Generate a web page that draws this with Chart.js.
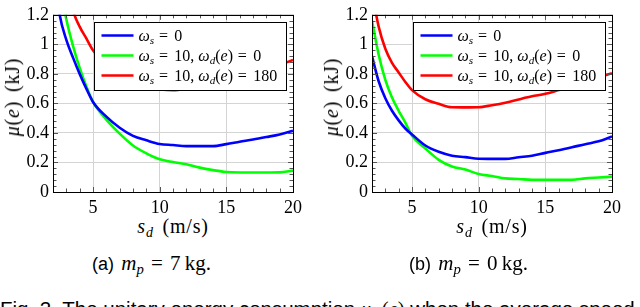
<!DOCTYPE html>
<html>
<head>
<meta charset="utf-8">
<script src="https://cdn.jsdelivr.net/npm/chart.js@4.4.0/dist/chart.umd.min.js"></script>
<style>
  html, body { margin: 0; padding: 0; background: #fff; }
  body { width: 640px; height: 307px; position: relative; overflow: hidden; font-family: "Liberation Serif", "Times New Roman", serif; }
  canvas { position: absolute; top: 0; }
  .t { position: absolute; white-space: nowrap; color: #000; line-height: 1; }
  .t sub { font-size: 70%; vertical-align: -0.25em; line-height: 0; }
  .sans { font-family: "Liberation Sans", Arial, sans-serif; }
  .ytitle { font-size: 20px; letter-spacing: 0.8px; word-spacing: 3px; transform: translate(-50%, -50%) rotate(-90deg); }
  .xtitle { font-size: 20px; letter-spacing: 0.8px; word-spacing: 3px; transform: translate(-50%, -50%); }
  .cap { font-size: 21px; word-spacing: 2px; }
  .fig { font-size: 20.5px; font-family: "Liberation Sans", Arial, sans-serif; left: 0; top: 299px; }
  .m { font-family: "Liberation Serif", "Times New Roman", serif; }
</style>
</head>
<body>
<canvas id="chartA" width="320" height="215" style="left:0"></canvas>
<canvas id="chartB" width="320" height="215" style="left:319px"></canvas>

<div class="t ytitle" style="left:12px; top:97px"><i>μ</i>(<i>e</i>) (kJ)</div>
<div class="t ytitle" style="left:331px; top:97px"><i>μ</i>(<i>e</i>) (kJ)</div>
<div class="t xtitle" style="left:173px; top:226px"><i>s</i><sub><i>d</i></sub> (m/s)</div>
<div class="t xtitle" style="left:492px; top:226px"><i>s</i><sub><i>d</i></sub> (m/s)</div>
<div class="t cap" style="left:92px; top:253px"><span class="sans" style="font-size:18px">(a)</span> <i>m</i><sub><i>p</i></sub> = 7&#8201;kg.</div>
<div class="t cap" style="left:409px; top:253px"><span class="sans" style="font-size:18px">(b)</span> <i>m</i><sub><i>p</i></sub> = 0&#8201;kg.</div>
<div class="t fig">Fig. 2. The unitary energy consumption <i class="m">μ</i><sub class="m"><i>s<sub>d</sub></i></sub><span class="m">(<i>e</i>)</span> when the average speed</div>

<script>
// speed s_d (m/s)
const speeds = [2, 2.5, 3, 3.5, 4, 4.5, 5, 6, 7, 8, 9, 10, 11, 12, 13, 14, 15, 16, 17, 18, 19, 20];

// (a) m_p = 7 kg, mu(e) in kJ
const mp7_ws0      = [1.55, 1.2, 1.03, 0.91, 0.80, 0.70, 0.61, 0.51, 0.435, 0.38, 0.35, 0.325, 0.318, 0.311, 0.311, 0.311, 0.324, 0.34, 0.355, 0.372, 0.39, 0.415];
const mp7_ws10_wd0 = [1.75, 1.42, 1.17, 0.99, 0.84, 0.715, 0.61, 0.49, 0.395, 0.315, 0.262, 0.222, 0.203, 0.188, 0.165, 0.148, 0.135, 0.132, 0.132, 0.132, 0.133, 0.145];
const mp7_ws10_wd180 = [2.2, 1.75, 1.45, 1.23, 1.12, 1.04, 0.96, 0.86, 0.79, 0.735, 0.707, 0.695, 0.69, 0.70, 0.718, 0.742, 0.76, 0.78, 0.80, 0.83, 0.86, 0.895];

// (b) m_p = 0 kg
const mp0_ws0      = [0.92, 0.75, 0.635, 0.55, 0.485, 0.43, 0.39, 0.315, 0.272, 0.246, 0.236, 0.225, 0.224, 0.224, 0.235, 0.245, 0.265, 0.283, 0.303, 0.324, 0.343, 0.376];
const mp0_ws10_wd0 = [1.16, 0.93, 0.76, 0.64, 0.55, 0.47, 0.38, 0.295, 0.218, 0.173, 0.152, 0.122, 0.108, 0.092, 0.088, 0.082, 0.082, 0.082, 0.082, 0.092, 0.098, 0.104];
const mp0_ws10_wd180 = [1.35, 1.12, 0.97, 0.875, 0.81, 0.745, 0.69, 0.628, 0.597, 0.574, 0.573, 0.574, 0.588, 0.605, 0.627, 0.648, 0.665, 0.69, 0.715, 0.745, 0.775, 0.805];

const seriesLabels = ['ω_s = 0', 'ω_s = 10, ω_d(e) = 0', 'ω_s = 10, ω_d(e) = 180'];
const seriesColors = ['#0000ff', '#00ff00', '#ff0000'];

const xTicks = [5, 10, 15, 20];
const xTickLabels = ['5', '10', '15', '20'];
const yTicks = [0, 0.2, 0.4, 0.6, 0.8, 1, 1.2];
const yTickLabels = ['0', '0.2', '0.4', '0.6', '0.8', '1', '1.2'];

const serif = '"Liberation Serif", "Times New Roman", serif';

// pgfplots-like frame with inner ticks on all four sides
const frameTicks = {
    id: 'frameTicks',
    afterDatasetsDraw(chart) {
        const { ctx, chartArea: a, scales: { x, y } } = chart;
        ctx.save();
        ctx.strokeStyle = '#555';
        ctx.lineWidth = 1;
        ctx.beginPath();
        for (let v = 2; v <= 20; v++) {
            const px = Math.round(x.getPixelForValue(v)) + 0.5;
            const len = xTicks.includes(v) ? 5 : 3.5;
            ctx.moveTo(px, a.bottom); ctx.lineTo(px, a.bottom - len);
            ctx.moveTo(px, a.top); ctx.lineTo(px, a.top + len);
        }
        for (let i = 0; i <= 30; i++) {
            const py = Math.round(y.getPixelForValue(i * 0.04)) + 0.5;
            const len = i % 5 === 0 ? 5 : 3.5;
            ctx.moveTo(a.left, py); ctx.lineTo(a.left + len, py);
            ctx.moveTo(a.right, py); ctx.lineTo(a.right - len, py);
        }
        ctx.stroke();
        ctx.strokeStyle = '#000';
        ctx.strokeRect(Math.round(a.left) + 0.5, Math.round(a.top) + 0.5, Math.round(a.right - a.left), Math.round(a.bottom - a.top));
        ctx.restore();
    }
};

// draws "ω_s = 10" style labels: letters italic, _x as subscript
function drawRich(ctx, str, x, y, size, draw) {
    let cx = x;
    for (let i = 0; i < str.length; i++) {
        let c = str[i], sub = false;
        if (c === '_') { sub = true; c = str[++i]; }
        const ital = /[a-zA-Zα-ω]/.test(c);
        const fs = sub ? size * 0.7 : size;
        ctx.font = (ital ? 'italic ' : '') + fs + 'px ' + serif;
        const w = ctx.measureText(c).width;
        if (draw) ctx.fillText(c, cx, y + (sub ? size * 0.22 : 0));
        cx += c === '=' ? w + 0.15 * size : w;
        if (c === ' ' && str[i + 1] === '=') cx += 0.05 * size;
    }
    return cx - x;
}

const texLegend = {
    id: 'texLegend',
    afterDraw(chart) {
        const { ctx, chartArea: a } = chart;
        const size = 16, rowH = 20, padL = 7, lineLen = 32, gap = 5, padR = 9;
        const sets = chart.data.datasets;
        ctx.save();
        let tw = 0;
        sets.forEach(d => { tw = Math.max(tw, drawRich(ctx, d.label, 0, 0, size, false)); });
        const w = padL + lineLen + gap + tw + padR;
        const h = 13 + rowH * (sets.length - 1) + 15;
        const left = Math.round(a.right - 7 - w) + 0.5;
        const top = Math.round(a.top + 7) + 0.5;
        ctx.fillStyle = '#fff';
        ctx.fillRect(left, top, w, h);
        ctx.strokeStyle = '#000';
        ctx.lineWidth = 1;
        ctx.strokeRect(left, top, Math.round(w), h);
        sets.forEach((d, i) => {
            const cy = top + 13 + i * rowH;
            ctx.strokeStyle = d.borderColor;
            ctx.lineWidth = 2.6;
            ctx.beginPath();
            ctx.moveTo(left + padL, cy); ctx.lineTo(left + padL + lineLen, cy);
            ctx.stroke();
            ctx.fillStyle = '#000';
            ctx.textBaseline = 'alphabetic';
            drawRich(ctx, d.label, left + padL + lineLen + gap, cy + size * 0.32, size, true);
        });
        ctx.restore();
    }
};

function makeChart(id, series) {
    new Chart(document.getElementById(id), {
        type: 'line',
        data: {
            datasets: series.map((vals, i) => ({
                label: seriesLabels[i],
                data: speeds.map((s, j) => ({ x: s, y: vals[j] })),
                borderColor: seriesColors[i],
                backgroundColor: seriesColors[i],
                borderWidth: 2.6,
                pointRadius: 0,
                cubicInterpolationMode: 'monotone',
                clip: 0
            }))
        },
        options: {
            responsive: false,
            animation: false,
            layout: { padding: { top: 5, right: 27, left: 0, bottom: 0 } },
            plugins: { legend: { display: false }, tooltip: { enabled: false } },
            scales: {
                x: {
                    type: 'linear', min: 2, max: 20,
                    afterBuildTicks: s => { s.ticks = xTicks.map(v => ({ value: v })); },
                    afterFit: s => { s.height = 23; },
                    grid: { color: '#d4d4d4', drawTicks: false },
                    border: { display: false },
                    ticks: { padding: 5, color: '#000', font: { family: serif, size: 18 },
                             callback: (v, i) => xTickLabels[i] }
                },
                y: {
                    min: 0, max: 1.2,
                    afterBuildTicks: s => { s.ticks = yTicks.map(v => ({ value: v })); },
                    afterFit: s => { s.width = 53; },
                    grid: { color: '#d4d4d4', drawTicks: false },
                    border: { display: false },
                    ticks: { padding: 4, color: '#000', font: { family: serif, size: 18 },
                             callback: (v, i) => yTickLabels[i] }
                }
            }
        },
        plugins: [frameTicks, texLegend]
    });
}

makeChart('chartA', [mp7_ws0, mp7_ws10_wd0, mp7_ws10_wd180]);
makeChart('chartB', [mp0_ws0, mp0_ws10_wd0, mp0_ws10_wd180]);
</script>
</body>
</html>
